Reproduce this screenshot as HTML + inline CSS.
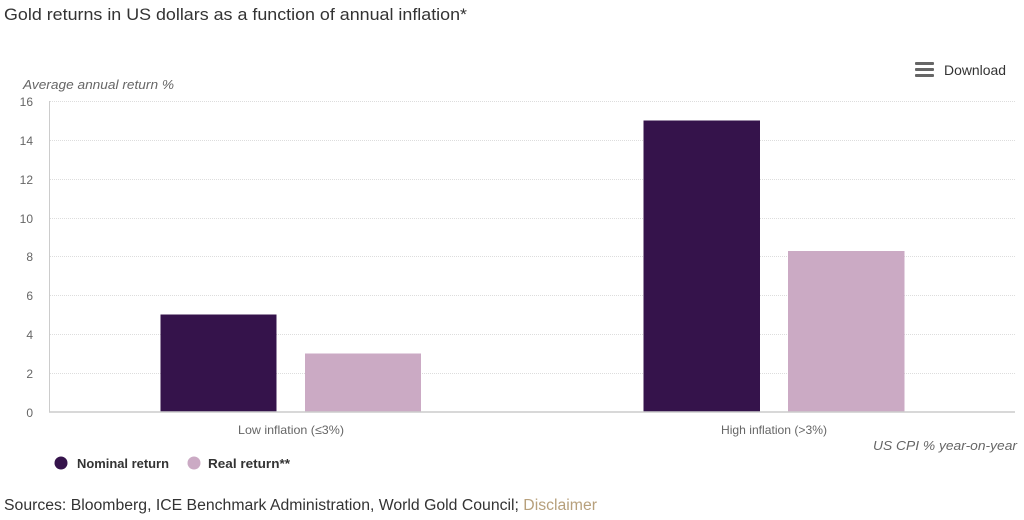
<!DOCTYPE html>
<html><head><meta charset="utf-8"><style>
html,body{margin:0;padding:0;background:#fff;width:1024px;height:520px;overflow:hidden}
svg{display:block;font-family:"Liberation Sans",Arial,sans-serif}
</style></head><body>
<svg width="1024" height="520" viewBox="0 0 1024 520" xmlns="http://www.w3.org/2000/svg">
<text x="4" y="20" font-size="17" fill="#333" textLength="463" lengthAdjust="spacingAndGlyphs">Gold returns in US dollars as a function of annual inflation*</text>
<g fill="#666"><rect x="915" y="62" width="19" height="3" rx="1"/><rect x="915" y="68" width="19" height="3" rx="1"/><rect x="915" y="74" width="19" height="3" rx="1"/></g>
<text x="944" y="75" font-size="14" fill="#333" textLength="62" lengthAdjust="spacingAndGlyphs">Download</text>
<text x="23" y="89" font-size="13" font-style="italic" fill="#666" textLength="151" lengthAdjust="spacingAndGlyphs">Average annual return %</text>
<g stroke="#ddd" stroke-width="1" stroke-dasharray="1,1">
<line x1="50" x2="1015" y1="101.5" y2="101.5"/>
<line x1="50" x2="1015" y1="140.5" y2="140.5"/>
<line x1="50" x2="1015" y1="179.5" y2="179.5"/>
<line x1="50" x2="1015" y1="218.5" y2="218.5"/>
<line x1="50" x2="1015" y1="256.5" y2="256.5"/>
<line x1="50" x2="1015" y1="295.5" y2="295.5"/>
<line x1="50" x2="1015" y1="334.5" y2="334.5"/>
<line x1="50" x2="1015" y1="373.5" y2="373.5"/>
</g>
<g font-size="12" fill="#666" text-anchor="end">
<text x="33" y="106">16</text>
<text x="33" y="145">14</text>
<text x="33" y="184">12</text>
<text x="33" y="223">10</text>
<text x="33" y="261">8</text>
<text x="33" y="300">6</text>
<text x="33" y="339">4</text>
<text x="33" y="378">2</text>
<text x="33" y="417">0</text>
</g>
<rect x="160.5" y="314.5" width="116" height="97.5" fill="#35134b"/>
<rect x="305" y="353.5" width="116" height="58.5" fill="#cbaac4"/>
<rect x="643.5" y="120.5" width="116.5" height="291.5" fill="#35134b"/>
<rect x="788" y="251" width="116.5" height="161" fill="#cbaac4"/>
<line x1="49.5" x2="49.5" y1="101" y2="412" stroke="#ccc" stroke-width="1"/>
<line x1="49" x2="1015" y1="412" y2="412" stroke="#ccc" stroke-width="1.5"/>
<g font-size="12" fill="#666">
<text x="238" y="434" textLength="106" lengthAdjust="spacingAndGlyphs">Low inflation (≤3%)</text>
<text x="721" y="434" textLength="106" lengthAdjust="spacingAndGlyphs">High inflation (&gt;3%)</text>
</g>
<text x="873" y="450" font-size="13" font-style="italic" fill="#666" textLength="144" lengthAdjust="spacingAndGlyphs">US CPI % year-on-year</text>
<circle cx="61" cy="463" r="6.5" fill="#35134b"/>
<text x="77" y="468" font-size="13" font-weight="bold" fill="#333" textLength="92" lengthAdjust="spacingAndGlyphs">Nominal return</text>
<circle cx="194" cy="463" r="6.5" fill="#cbaac4"/>
<text x="208" y="468" font-size="13" font-weight="bold" fill="#333" textLength="82" lengthAdjust="spacingAndGlyphs">Real return**</text>
<text x="4" y="510" font-size="15.5" fill="#333" textLength="593" lengthAdjust="spacingAndGlyphs">Sources: Bloomberg, ICE Benchmark Administration, World Gold Council; <tspan fill="#b7a07c">Disclaimer</tspan></text>
</svg>
</body></html>
